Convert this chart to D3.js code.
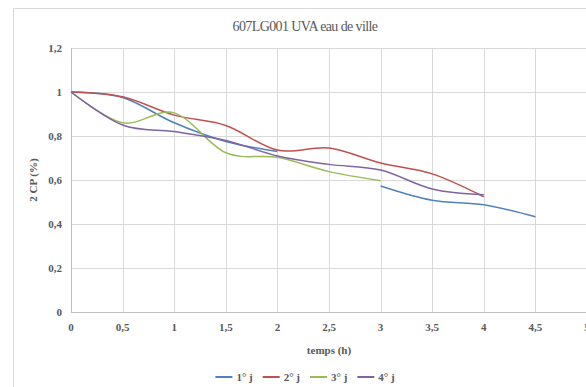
<!DOCTYPE html>
<html>
<head>
<meta charset="utf-8">
<script src="https://cdn.jsdelivr.net/npm/d3@7"></script>
<style>
  body { margin: 0; background: #fff; }
  svg text { font-family: "Liberation Serif", "DejaVu Serif", serif; fill: #595959; }
</style>
</head>
<body>
<div id="chart"></div>
<script>
// time points (h)
const times = [0, 0.5, 1, 1.5, 2, 2.5, 3, 3.5, 4, 4.5];

// values per day, null = no measure
const day1 = [1, 0.975, 0.86, 0.775, 0.73, null, 0.573, 0.508, 0.487, 0.433];
const day2 = [1, 0.978, 0.895, 0.848, 0.736, 0.745, 0.677, 0.628, 0.524, null];
const day3 = [1, 0.86, 0.905, 0.724, 0.703, 0.638, 0.597, null, null, null];
const day4 = [1, 0.85, 0.82, 0.78, 0.709, 0.671, 0.645, 0.559, 0.533, null];

const seriesNames = ["1° j", "2° j", "3° j", "4° j"];
const seriesColors = ["#4F81BD", "#C0504D", "#9BBB59", "#8064A2"];
const xTicks = [0, 0.5, 1, 1.5, 2, 2.5, 3, 3.5, 4, 4.5, 5];
const yTicks = [0, 0.2, 0.4, 0.6, 0.8, 1, 1.2];

const W = 586, H = 387;
const margin = { top: 48, left: 71, bottom: 75, right: -1 };

const svg = d3.select("#chart").append("svg")
  .attr("width", W)
  .attr("height", H);

// chart frame
svg.append("rect")
  .attr("x", 13.5).attr("y", 8.5)
  .attr("width", 600).attr("height", 400)
  .attr("fill", "#fff")
  .attr("stroke", "#d9d9d9");

const x = d3.scaleLinear().domain([0, 5]).range([margin.left, W - margin.right]);
const y = d3.scaleLinear().domain([0, 1.2]).range([H - margin.bottom, margin.top]);

const fmt = d => String(d).replace(".", ",");

// grid
svg.append("g").selectAll("line.v")
  .data(xTicks.slice(1))
  .join("line")
  .attr("x1", d => Math.round(x(d)) + 0.5).attr("x2", d => Math.round(x(d)) + 0.5)
  .attr("y1", y(1.2)).attr("y2", y(0))
  .attr("stroke", "#d9d9d9");

svg.append("g").selectAll("line.h")
  .data(yTicks.slice(1))
  .join("line")
  .attr("x1", x(0)).attr("x2", x(5))
  .attr("y1", d => Math.round(y(d)) + 0.5).attr("y2", d => Math.round(y(d)) + 0.5)
  .attr("stroke", "#d9d9d9");

// axis lines
svg.append("line")
  .attr("x1", Math.round(x(0)) + 0.5).attr("x2", Math.round(x(0)) + 0.5)
  .attr("y1", y(1.2)).attr("y2", y(0))
  .attr("stroke", "#bfbfbf");
svg.append("line")
  .attr("x1", x(0)).attr("x2", x(5))
  .attr("y1", Math.round(y(0)) + 0.5).attr("y2", Math.round(y(0)) + 0.5)
  .attr("stroke", "#bfbfbf");

// tick labels
svg.append("g").selectAll("text")
  .data(xTicks)
  .join("text")
  .attr("x", d => x(d))
  .attr("y", y(0) + 19)
  .attr("text-anchor", "middle")
  .attr("font-size", 11)
  .attr("font-weight", "bold")
  .text(fmt);

svg.append("g").selectAll("text")
  .data(yTicks)
  .join("text")
  .attr("x", x(0) - 9)
  .attr("y", d => y(d) + 4)
  .attr("text-anchor", "end")
  .attr("font-size", 11)
  .attr("font-weight", "bold")
  .text(fmt);

// titles
svg.append("text")
  .attr("x", 305).attr("y", 31)
  .attr("text-anchor", "middle")
  .attr("font-size", 14)
  .attr("letter-spacing", -0.6)
  .text("607LG001 UVA eau de ville");

svg.append("text")
  .attr("x", (x(0) + x(5)) / 2).attr("y", y(0) + 42)
  .attr("text-anchor", "middle")
  .attr("font-size", 11)
  .attr("font-weight", "bold")
  .text("temps (h)");

svg.append("text")
  .attr("transform", `translate(37,${(y(0) + y(1.2)) / 2}) rotate(-90)`)
  .attr("text-anchor", "middle")
  .attr("font-size", 11)
  .attr("font-weight", "bold")
  .text("2 CP (%)");

// series
const allSeries = [day1, day2, day3, day4];
const line = d3.line()
  .defined(d => d.v != null)
  .x(d => x(d.t))
  .y(d => y(d.v))
  .curve(d3.curveCardinal.tension(0));

allSeries.forEach((vals, i) => {
  const pts = times.map((t, j) => ({ t: t, v: vals[j] }));
  svg.append("path")
    .datum(pts)
    .attr("fill", "none")
    .attr("stroke", seriesColors[i])
    .attr("stroke-width", 1.5)
    .attr("d", line);
});

// legend
const legend = svg.append("g");
let lx = 0;
seriesNames.forEach((name, i) => {
  const g = legend.append("g").attr("transform", `translate(${lx},0)`);
  g.append("line")
    .attr("x1", 0).attr("x2", 17)
    .attr("y1", 0).attr("y2", 0)
    .attr("stroke", seriesColors[i])
    .attr("stroke-width", 2);
  const t = g.append("text")
    .attr("x", 21).attr("y", 4)
    .attr("font-size", 11)
    .attr("font-weight", "bold")
    .text(name);
  lx += 21 + t.node().getComputedTextLength() + 10;
});
legend.attr("transform", `translate(${305 - (lx - 10) / 2},377)`);
</script>
</body>
</html>
